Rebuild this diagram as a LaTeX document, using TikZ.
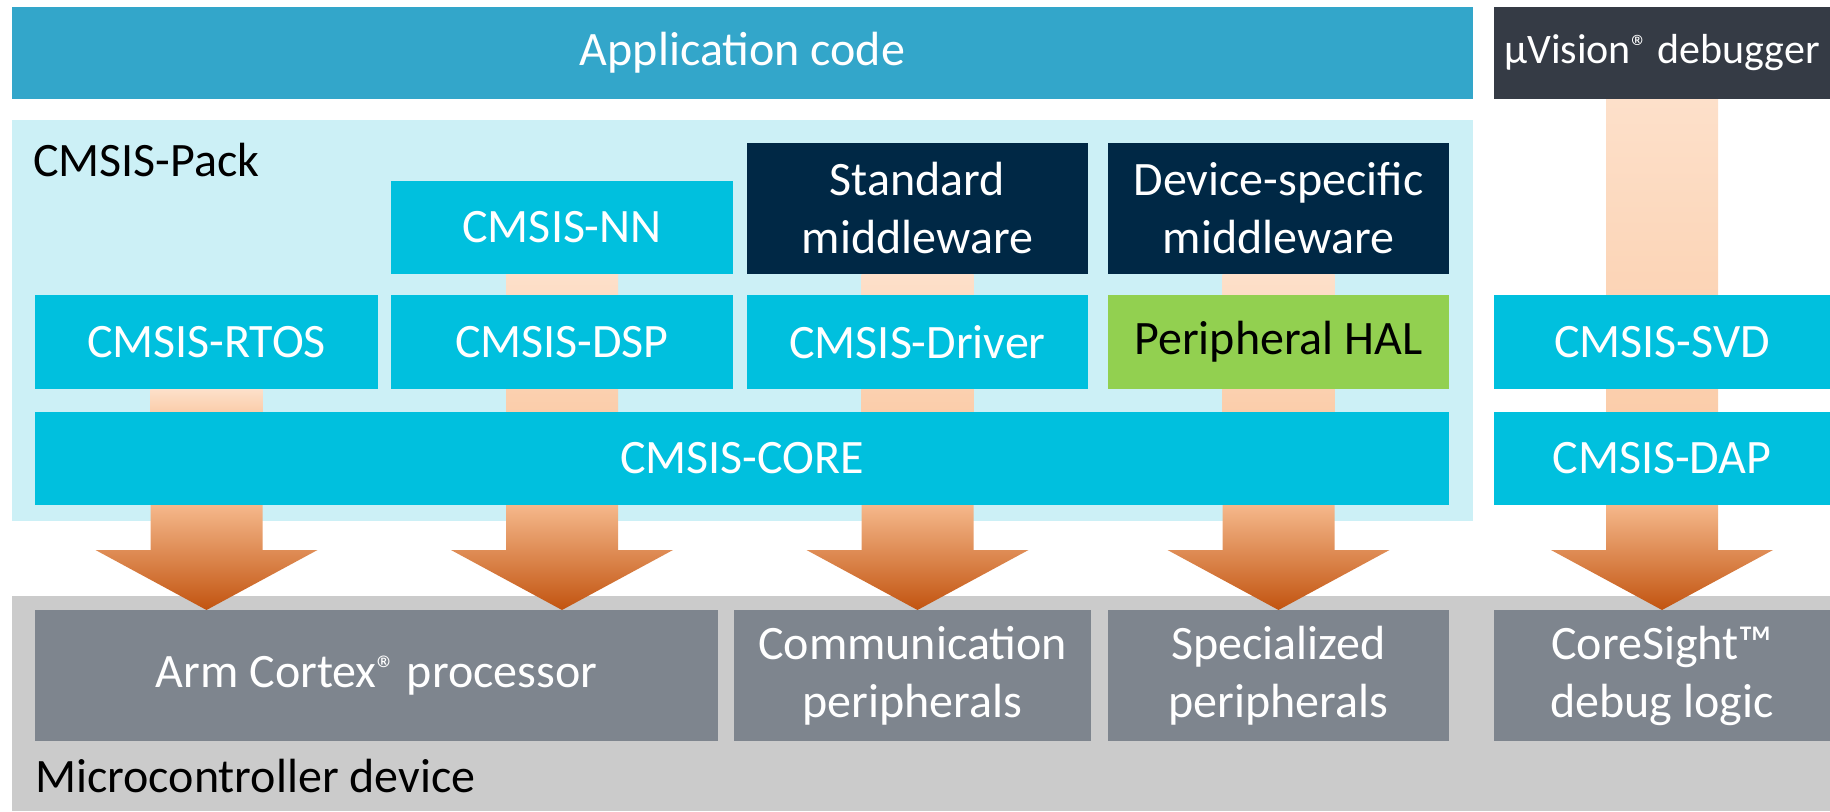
\documentclass[tikz,border=0pt]{standalone}
\usepackage{fontspec}
\setmainfont{Carlito}
\definecolor{appblue}{HTML}{33A6CA}
\definecolor{packbg}{HTML}{CCF0F6}
\definecolor{cmsis}{HTML}{00C0DE}
\definecolor{navy}{HTML}{002845}
\definecolor{dbg}{HTML}{353B45}
\definecolor{halgreen}{HTML}{92D050}
\definecolor{hwgray}{HTML}{7E858E}
\definecolor{devbg}{HTML}{CBCBCB}
\definecolor{peachtop}{HTML}{FDE0CA}
\definecolor{peachbot}{HTML}{FBCDAA}
\definecolor{arrtop}{HTML}{F5B88B}
\definecolor{arrbot}{HTML}{C25410}
\pgfdeclarelayer{bgbg}
\pgfdeclarelayer{bg}
\pgfsetlayers{bgbg,bg,main}
\newcommand{\regmark}{\raisebox{0.12em}{\scalebox{0.8}{®}}}
\begin{document}
\begin{tikzpicture}[x=1pt,y=-1pt,
  blk/.style={anchor=north west, inner sep=0pt, outer sep=0pt, align=center,
    font=\fontsize{48}{58}\selectfont, text=white},
  cyanbox/.style={blk, fill=cmsis},
  navybox/.style={blk, fill=navy},
  graybox/.style={blk, fill=hwgray},
  area/.style={anchor=north west, inner sep=0pt, outer sep=0pt},
  lbl/.style={anchor=west, inner sep=0pt, font=\fontsize{48}{58}\selectfont, text=black},
  peach/.style={top color=peachtop, bottom color=peachbot, draw=none},
  bigarr/.style={top color=arrtop, bottom color=arrbot, draw=none}]
\useasboundingbox (0,0) rectangle (1830,811);

% top row
\node[blk, fill=appblue, minimum width=1461pt, minimum height=92pt] (app) at (12,7) {Application code};
\node[blk, fill=dbg, minimum width=336pt, minimum height=92pt, font=\fontsize{42}{52}\selectfont] (uvis) at (1494,7) {µVision\regmark{} debugger};

% CMSIS-Pack area
\node[area, minimum width=1461pt, minimum height=401pt] (pack) at (12,120) {};
\node[lbl] (packlbl) at (33,160) {CMSIS-Pack};

\node[cyanbox, minimum width=342pt, minimum height=93pt] (nn) at (391,181) {CMSIS-NN};
\node[navybox, minimum width=341pt, minimum height=131pt] (stdmw) at (747,143) {Standard\\middleware};
\node[navybox, minimum width=341pt, minimum height=131pt] (devmw) at (1108,143) {Device-specific\\middleware};

\node[cyanbox, minimum width=343pt, minimum height=94pt] (rtos) at (35,295) {CMSIS-RTOS};
\node[cyanbox, minimum width=342pt, minimum height=94pt] (dsp) at (391,295) {CMSIS-DSP};
\node[cyanbox, minimum width=341pt, minimum height=94pt] (drv) at (747,295) {CMSIS-Driver};
\node[blk, fill=halgreen, text=black, minimum width=341pt, minimum height=94pt] (hal) at (1108,295) {Peripheral HAL};
\node[cyanbox, minimum width=336pt, minimum height=94pt] (svd) at (1494,295) {CMSIS-SVD};

\node[cyanbox, minimum width=1414pt, minimum height=93pt] (core) at (35,412) {CMSIS-CORE};
\node[cyanbox, minimum width=336pt, minimum height=93pt] (dap) at (1494,412) {CMSIS-DAP};

% device area
\node[area, minimum width=1818pt, minimum height=215pt] (dev) at (12,596) {};
\node[lbl] (devlbl) at (35,776) {Microcontroller device};
\node[graybox, minimum width=683pt, minimum height=131pt] (cortex) at (35,610) {Arm Cortex\regmark{} processor};
\node[graybox, minimum width=357pt, minimum height=131pt] (comm) at (734,610) {Communication\\peripherals};
\node[graybox, minimum width=341pt, minimum height=131pt] (spec) at (1108,610) {Specialized\\peripherals};
\node[graybox, minimum width=336pt, minimum height=131pt] (cs) at (1494,610) {CoreSight™\\debug logic};

% background areas
\begin{pgfonlayer}{bgbg}
  \fill[packbg] (pack.north west) rectangle (pack.south east);
  \fill[devbg] (dev.north west) rectangle (dev.south east);
\end{pgfonlayer}

% peach links and arrows
\begin{pgfonlayer}{bg}
  \foreach \t/\b in {rtos/core, nn/core, stdmw/core, devmw/core, uvis/dap}{
    \shade[peach] ([xshift=-56pt]\t.south) rectangle ([xshift=56pt]\t.south |- \b.north);
  }
  \foreach \t/\s/\b in {rtos/core/cortex, dsp/core/cortex, drv/core/comm, hal/core/spec, svd/dap/cs}{
    \shade[bigarr]
      ([xshift=-56pt]\t.south |- \s.south)
      -- ([xshift=-56pt,yshift=-45pt]\t.south |- \s.south)
      -- ([xshift=-111pt,yshift=-45pt]\t.south |- \s.south)
      -- (\t.south |- \b.north)
      -- ([xshift=111pt,yshift=-45pt]\t.south |- \s.south)
      -- ([xshift=56pt,yshift=-45pt]\t.south |- \s.south)
      -- ([xshift=56pt]\t.south |- \s.south)
      -- cycle;
  }
\end{pgfonlayer}
\end{tikzpicture}
\end{document}
